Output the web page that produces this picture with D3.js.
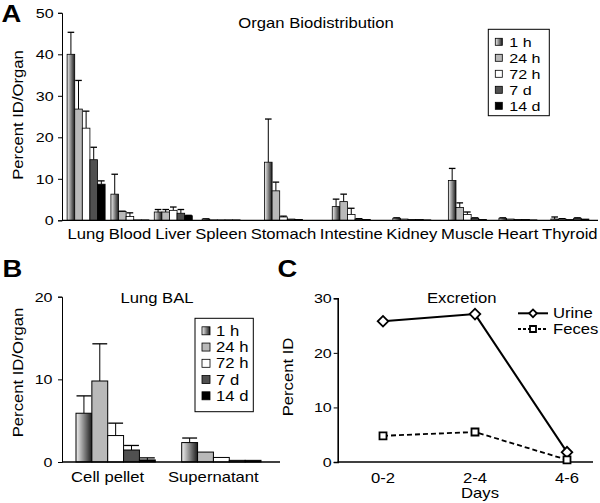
<!DOCTYPE html>
<html>
<head>
<meta charset="utf-8">
<script src="https://cdn.jsdelivr.net/npm/d3@7"></script>
<style>
  body { margin: 0; background: #fff; }
  svg text { font-family: "Liberation Sans", Arial, sans-serif; fill: #000; }
</style>
</head>
<body>
<svg id="fig" width="600" height="503"></svg>
<script>
// ---- data ----
var organs = ["Lung", "Blood", "Liver", "Spleen", "Stomach", "Intestine", "Kidney", "Muscle", "Heart", "Thyroid"];
var timepoints = ["1 h", "24 h", "72 h", "7 d", "14 d"];

// percent ID / organ, mean and upper error (SD)
var organ1h    = [40.0, 6.3, 2.0, 0.3, 14.0, 3.3, 0.5, 9.6, 0.5, 0.3];
var organ1hSd  = [5.3, 4.8, 0.6, 0.05, 10.4, 1.8, 0.1, 2.9, 0.1, 0.5];
var organ24h   = [26.8, 2.1, 2.0, 0.1, 7.1, 4.5, 0.3, 3.1, 0.3, 0.3];
var organ24hSd = [6.9, 0.1, 0.6, 0, 2.1, 1.8, 0, 1.1, 0, 0.1];
var organ72h   = [22.2, 0.9, 2.4, 0.1, 0.8, 1.4, 0.2, 1.4, 0.2, 0.2];
var organ72hSd = [4.1, 0.9, 0.8, 0, 0.2, 1.5, 0, 0.6, 0, 0];
var organ7d    = [14.6, 0.1, 1.7, 0.1, 0.3, 0.3, 0.2, 0.5, 0.2, 0.5];
var organ7dSd  = [3.0, 0, 0.9, 0, 0, 0.1, 0, 0.1, 0, 0.1];
var organ14d   = [8.7, 0.1, 1.1, 0.1, 0.2, 0.2, 0.1, 0.2, 0.1, 0.3];
var organ14dSd = [0.8, 0, 0.1, 0, 0, 0, 0, 0, 0, 0];

var balSites = ["Cell pellet", "Supernatant"];
var bal1h    = [5.9, 2.35];
var bal1hSd  = [2.1, 0.55];
var bal24h   = [9.8, 1.2];
var bal24hSd = [4.5, 0];
var bal72h   = [3.2, 0.55];
var bal72hSd = [1.5, 0];
var bal7d    = [1.45, 0.2];
var bal7dSd  = [0.55, 0];
var bal14d   = [0.25, 0.2];
var bal14dSd = [0.25, 0];

var days = ["0-2", "2-4", "4-6"];
var urine = [25.8, 27.1, 1.8];
var feces = [4.8, 5.5, 0.4];

// ---- setup ----
var SX = 1.19;          // lettering in the figure is wider than plain Arial
var tickFont = 13.5;
var textFont = 14;

var svg = d3.select("#fig");

var grad = svg.append("defs").append("linearGradient")
  .attr("id", "g1h")
  .attr("x1", 0).attr("x2", 1).attr("y1", 0).attr("y2", 0);
grad.append("stop").attr("offset", "0%").attr("stop-color", "#f2f2f2");
grad.append("stop").attr("offset", "100%").attr("stop-color", "#1c1c1c");

var fills = ["url(#g1h)", "#b9b9b9", "#ffffff", "#505050", "#000000"];

function label(g, x, y, s, size, anchor, rotate, weight) {
  return g.append("text")
    .attr("transform", "translate(" + x + "," + y + ")" + (rotate ? " rotate(-90)" : "") + " scale(" + SX + ",1)")
    .attr("text-anchor", anchor || "middle")
    .style("font-size", size + "px")
    .style("font-weight", weight || "normal")
    .text(s);
}

function styleTicks(axisG, size) {
  axisG.selectAll("text")
    .style("font-size", size + "px")
    .attr("transform", "scale(" + SX + ",1)");
  axisG.selectAll("line").attr("stroke", "#000");
  axisG.select(".domain").attr("stroke", "#000");
}

// grouped bars with upper error bars
function drawBars(g, cats, center, groupW, y, means, sds, sw) {
  var sub = d3.scaleBand().domain(timepoints).range([-groupW / 2, groupW / 2]);
  var bw = sub.bandwidth();
  timepoints.forEach(function(t, i) {
    var rows = cats.map(function(c, j) { return { c: c, v: means[i][j], e: sds[i][j] }; });
    var s = g.append("g");
    var withErr = rows.filter(function(d) { return d.e > 0; });
    s.selectAll("line.stem").data(withErr).join("line")
      .attr("class", "stem")
      .attr("x1", function(d) { return center(d.c) + sub(t) + bw / 2; })
      .attr("x2", function(d) { return center(d.c) + sub(t) + bw / 2; })
      .attr("y1", function(d) { return y(d.v); })
      .attr("y2", function(d) { return y(d.v + d.e); })
      .attr("stroke", "#000").attr("stroke-width", 1);
    s.selectAll("line.cap").data(withErr).join("line")
      .attr("class", "cap")
      .attr("x1", function(d) { return center(d.c) + sub(t) + 0.5; })
      .attr("x2", function(d) { return center(d.c) + sub(t) + bw - 0.5; })
      .attr("y1", function(d) { return y(d.v + d.e); })
      .attr("y2", function(d) { return y(d.v + d.e); })
      .attr("stroke", "#000").attr("stroke-width", 1.3);
    s.selectAll("rect").data(rows).join("rect")
      .attr("x", function(d) { return center(d.c) + sub(t); })
      .attr("width", bw)
      .attr("y", function(d) { return y(d.v); })
      .attr("height", function(d) { return y(0) - y(d.v); })
      .attr("fill", fills[i])
      .attr("stroke", "#000").attr("stroke-width", sw);
  });
}

function barLegend(g, x, y, w, h, step, sw, size) {
  g.append("rect").attr("x", x).attr("y", y).attr("width", w).attr("height", h)
    .attr("fill", "#fff").attr("stroke", "#000").attr("stroke-width", 1);
  timepoints.forEach(function(t, i) {
    var cy = y + 12.5 + i * step;
    g.append("rect").attr("x", x + 7).attr("y", cy - sw / 2).attr("width", sw).attr("height", sw)
      .attr("fill", fills[i]).attr("stroke", "#000").attr("stroke-width", 0.8);
    label(g, x + 21, cy + 5, t, size, "start");
  });
}

// ---- panel A: organ biodistribution ----
var gA = svg.append("g");
var yA = d3.scaleLinear().domain([0, 50]).range([220.3, 12.8]);

// lay the organ labels out side by side, as in the figure
var meas = gA.append("g").style("font-size", textFont + "px");
var widths = organs.map(function(o) {
  return meas.append("text").text(o).node().getComputedTextLength() * SX;
});
meas.remove();
var gap = 5, mids = [], acc = 0;
widths.forEach(function(w) { mids.push(acc + w / 2); acc += w + gap; });
acc -= gap;
var lay = d3.scaleLinear().domain([0, acc]).range([68, 597]);
var organX = d3.scaleOrdinal().domain(organs).range(mids.map(lay));

drawBars(gA, organs, organX, 38, yA,
  [organ1h, organ24h, organ72h, organ7d, organ14d],
  [organ1hSd, organ24hSd, organ72hSd, organ7dSd, organ14dSd], 0.8);

var axA = gA.append("g").attr("transform", "translate(62,0)")
  .call(d3.axisLeft(yA).tickValues([0, 10, 20, 30, 40, 50]).tickSize(4).tickPadding(3));
styleTicks(axA, tickFont);

gA.append("line").attr("x1", 62).attr("x2", 598).attr("y1", yA(0)).attr("y2", yA(0))
  .attr("stroke", "#000").attr("stroke-width", 1.2);
organs.forEach(function(o) { label(gA, organX(o), 238.5, o, textFont); });

label(gA, 316, 28.3, "Organ Biodistribution", textFont);
label(gA, 22.7, 115, "Percent ID/Organ", textFont, "middle", true);
barLegend(gA, 488.3, 29.3, 61, 86.4, 16, 7, 13.5);
label(gA, 1.5, 22, "A", 23, "start", false, "bold");

// ---- panel B: lung BAL ----
var gB = svg.append("g");
var yB = d3.scaleLinear().domain([0, 20]).range([462, 296.7]);
var xB = d3.scaleBand().domain(balSites).range([76, 261]).paddingInner(0.25);
var balCenter = function(c) { return xB(c) + xB.bandwidth() / 2; };

drawBars(gB, balSites, balCenter, xB.bandwidth(), yB,
  [bal1h, bal24h, bal72h, bal7d, bal14d],
  [bal1hSd, bal24hSd, bal72hSd, bal7dSd, bal14dSd], 1);

var axB = gB.append("g").attr("transform", "translate(62,0)")
  .call(d3.axisLeft(yB).tickValues([0, 10, 20]).tickSize(4).tickPadding(4));
styleTicks(axB, tickFont);
gB.append("line").attr("x1", 62).attr("x2", 280).attr("y1", yB(0)).attr("y2", yB(0))
  .attr("stroke", "#000").attr("stroke-width", 1.3);
balSites.forEach(function(c) { label(gB, balCenter(c) - 8, 482, c, textFont); });

label(gB, 157, 302.5, "Lung BAL", textFont);
label(gB, 22.7, 372.5, "Percent ID/Organ", textFont, "middle", true);
barLegend(gB, 195, 318.3, 58.3, 93.4, 16.25, 8, 14);
label(gB, 2.5, 277, "B", 23, "start", false, "bold");

// ---- panel C: excretion ----
var gC = svg.append("g");
var yC = d3.scaleLinear().domain([0, 30]).range([462, 298.3]);
var xC = d3.scalePoint().domain(days).range([383, 567]);

var axC = gC.append("g").attr("transform", "translate(337.7,0)")
  .call(d3.axisLeft(yC).tickValues([0, 10, 20, 30]).tickSize(4).tickPadding(1));
styleTicks(axC, tickFont);
axC.select(".domain").attr("stroke-width", 1.6);
gC.append("line").attr("x1", 337.7).attr("x2", 593).attr("y1", yC(0)).attr("y2", yC(0))
  .attr("stroke", "#000").attr("stroke-width", 1.6);
days.forEach(function(d) { label(gC, xC(d), 482.5, d, textFont); });

var line = d3.line().x(function(d) { return xC(d.day); }).y(function(d) { return yC(d.v); });
var urineRows = days.map(function(d, i) { return { day: d, v: urine[i] }; });
var fecesRows = days.map(function(d, i) { return { day: d, v: feces[i] }; });

gC.append("path").datum(fecesRows).attr("d", line)
  .attr("fill", "none").attr("stroke", "#000").attr("stroke-width", 1.8).attr("stroke-dasharray", "5,3");
gC.append("path").datum(urineRows).attr("d", line)
  .attr("fill", "none").attr("stroke", "#000").attr("stroke-width", 2);

var diamond = d3.symbol(d3.symbolSquare, 56);
var square = d3.symbol(d3.symbolSquare, 49);

gC.selectAll("path.u").data(urineRows).join("path")
  .attr("class", "u")
  .attr("d", diamond)
  .attr("transform", function(d) { return "translate(" + xC(d.day) + "," + yC(d.v) + ") rotate(45)"; })
  .attr("fill", "#fff").attr("stroke", "#000").attr("stroke-width", 1.8);
gC.selectAll("path.f").data(fecesRows).join("path")
  .attr("class", "f")
  .attr("d", square)
  .attr("transform", function(d) { return "translate(" + xC(d.day) + "," + yC(d.v) + ")"; })
  .attr("fill", "#fff").attr("stroke", "#000").attr("stroke-width", 1.8);

// legend
gC.append("line").attr("x1", 518).attr("x2", 548).attr("y1", 313.3).attr("y2", 313.3)
  .attr("stroke", "#000").attr("stroke-width", 2);
gC.append("path").attr("d", d3.symbol(d3.symbolSquare, 30))
  .attr("transform", "translate(533,313.3) rotate(45)")
  .attr("fill", "#fff").attr("stroke", "#000").attr("stroke-width", 1.8);
gC.append("line").attr("x1", 518).attr("x2", 548).attr("y1", 329).attr("y2", 329)
  .attr("stroke", "#000").attr("stroke-width", 1.8).attr("stroke-dasharray", "3,2");
gC.append("path").attr("d", d3.symbol(d3.symbolSquare, 36))
  .attr("transform", "translate(533,329)")
  .attr("fill", "#fff").attr("stroke", "#000").attr("stroke-width", 1.8);
label(gC, 553, 318.3, "Urine", textFont, "start");
label(gC, 553, 334, "Feces", textFont, "start");

label(gC, 461.7, 302.7, "Excretion", textFont);
label(gC, 480, 498, "Days", textFont);
label(gC, 293, 377, "Percent ID", textFont, "middle", true);
label(gC, 277.5, 277, "C", 23, "start", false, "bold");
</script>
</body>
</html>
